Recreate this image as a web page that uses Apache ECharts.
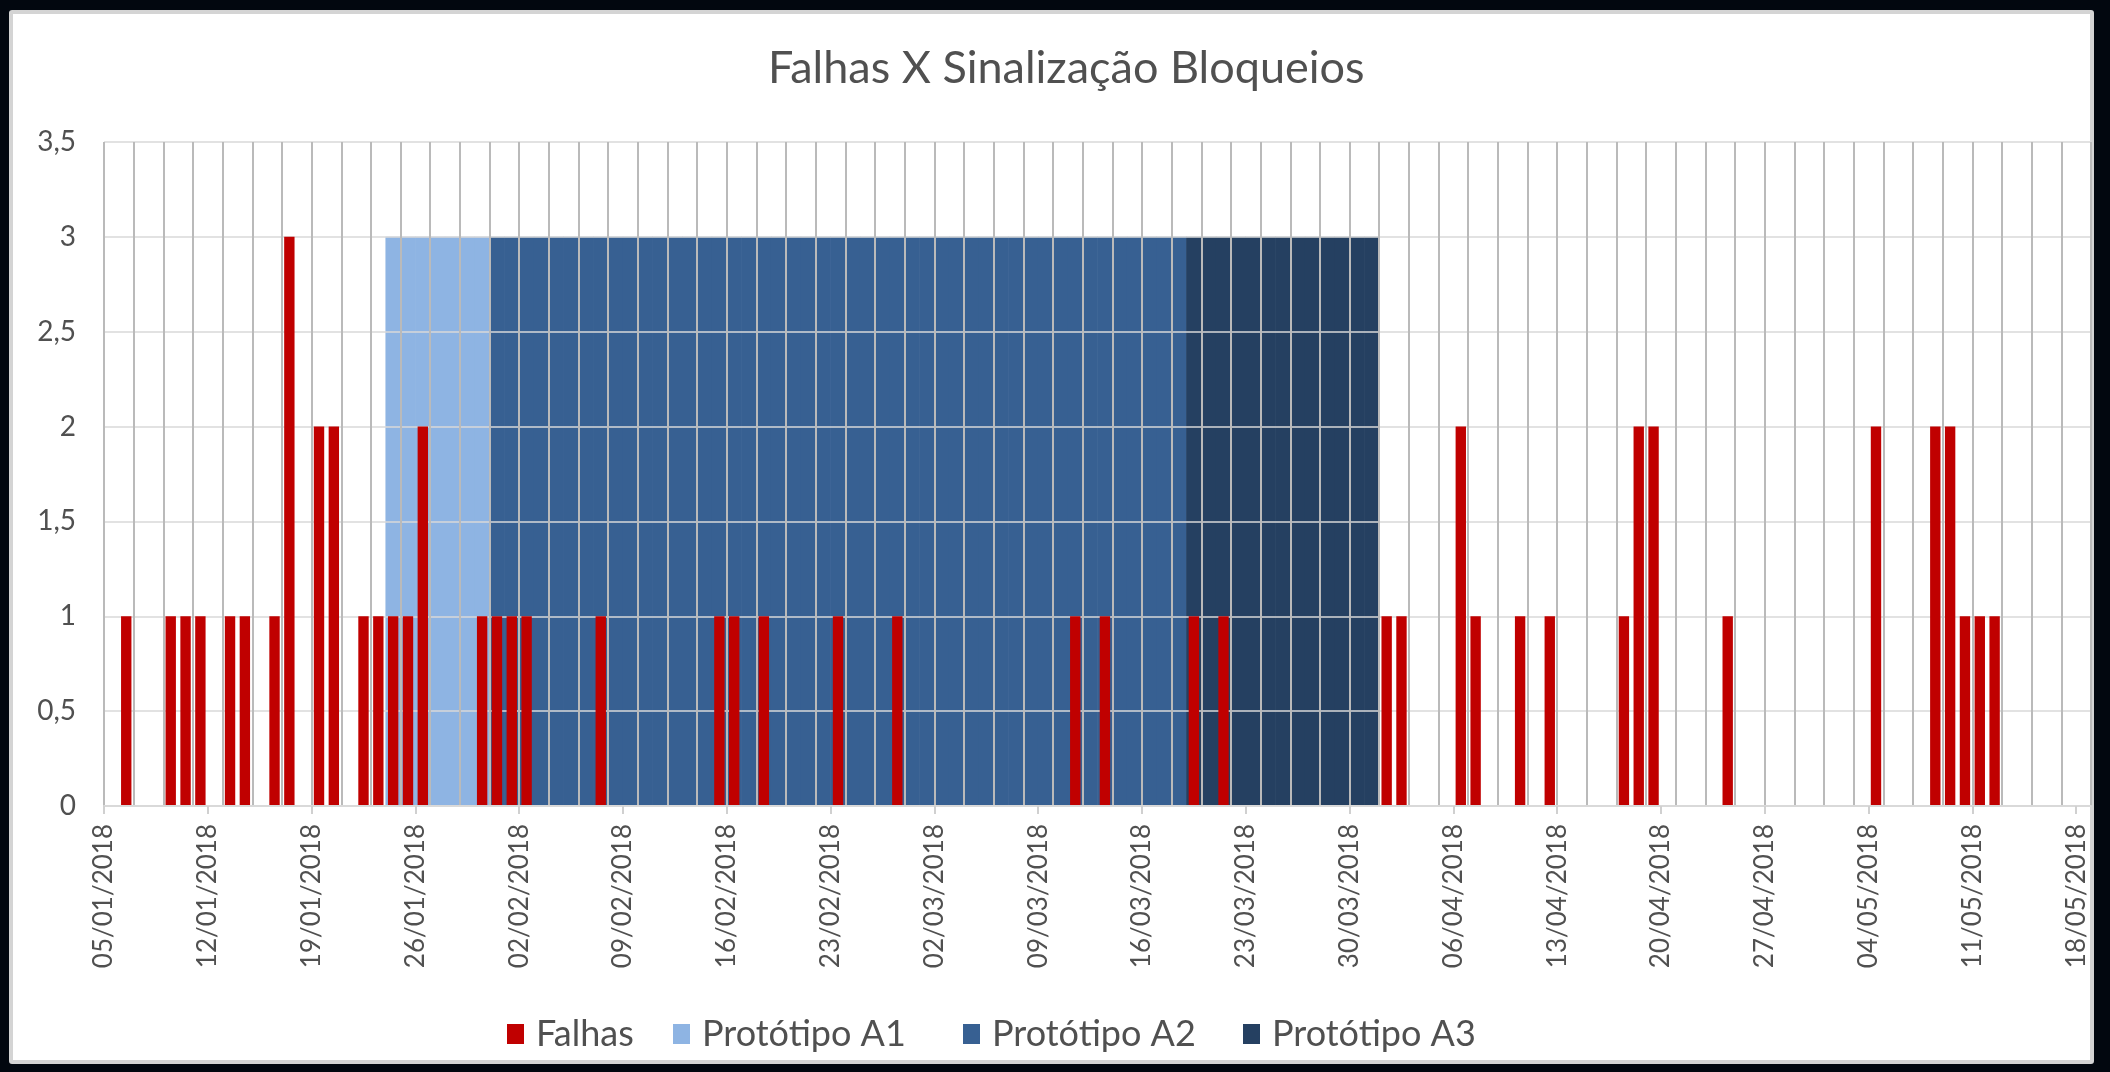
<!DOCTYPE html>
<html>
<head>
<meta charset="utf-8">
<script src="https://cdn.jsdelivr.net/npm/echarts@6/dist/echarts.min.js"></script>
<style>
  html, body { margin: 0; padding: 0; background: #02070f; overflow: hidden; }
  #moldura { position: absolute; left: 9px; top: 10px; width: 2085px; height: 1054px;
             background: #fff; border: 4px solid #d4d4d4; border-radius: 3px; box-sizing: border-box; }
  #grafico { position: absolute; left: 0; top: 0; width: 2110px; height: 1072px; }
</style>
</head>
<body>
<div id="moldura"></div>
<div id="grafico"></div>
<script>
// dias do eixo: de 05/01/2018 a 18/05/2018
const inicio = '05/01/2018';
const totalDias = 134;

// rotulos do eixo x (semanais)
const rotulosX = ['05/01/2018', '12/01/2018', '19/01/2018', '26/01/2018', '02/02/2018',
  '09/02/2018', '16/02/2018', '23/02/2018', '02/03/2018', '09/03/2018', '16/03/2018',
  '23/03/2018', '30/03/2018', '06/04/2018', '13/04/2018', '20/04/2018', '27/04/2018',
  '04/05/2018', '11/05/2018', '18/05/2018'];

// falhas por dia
const falhasDatas = ['06/01/2018', '09/01/2018', '10/01/2018', '11/01/2018', '13/01/2018',
  '14/01/2018', '16/01/2018', '17/01/2018', '19/01/2018', '20/01/2018', '22/01/2018',
  '23/01/2018', '24/01/2018', '25/01/2018', '26/01/2018', '30/01/2018', '31/01/2018',
  '01/02/2018', '02/02/2018', '07/02/2018', '15/02/2018', '16/02/2018', '18/02/2018',
  '23/02/2018', '27/02/2018', '11/03/2018', '13/03/2018', '19/03/2018', '21/03/2018',
  '01/04/2018', '02/04/2018', '06/04/2018', '07/04/2018', '10/04/2018', '12/04/2018',
  '17/04/2018', '18/04/2018', '19/04/2018', '24/04/2018', '04/05/2018', '08/05/2018',
  '09/05/2018', '10/05/2018', '11/05/2018', '12/05/2018'];
const falhasQtd = [1, 1, 1, 1, 1,
  1, 1, 3, 2, 2, 1,
  1, 1, 1, 2, 1, 1,
  1, 1, 1, 1, 1, 1,
  1, 1, 1, 1, 1, 1,
  1, 1, 2, 1, 1, 1,
  1, 2, 2, 1, 2, 2,
  2, 1, 1, 1];

// periodos dos prototipos
const prototipos = ['Protótipo A1', 'Protótipo A2', 'Protótipo A3'];
const protInicio = ['24/01/2018', '31/01/2018', '19/03/2018'];
const protFim = ['30/01/2018', '18/03/2018', '31/03/2018'];
const protNivel = [3, 3, 3];

const cores = ['#C00000', '#8EB4E3', '#376092', '#254061'];
const fonte = 'Lato';
const cinzaTexto = '#505050';

function paraUTC(s) {
  const p = s.split('/').map(Number);
  return Date.UTC(p[2], p[1] - 1, p[0]);
}
function indiceDia(s) {
  return Math.round((paraUTC(s) - paraUTC(inicio)) / 86400000);
}
function rotuloDia(i) {
  const d = new Date(paraUTC(inicio) + i * 86400000);
  const dd = String(d.getUTCDate()).padStart(2, '0');
  const mm = String(d.getUTCMonth() + 1).padStart(2, '0');
  return dd + '/' + mm + '/' + d.getUTCFullYear();
}

const dias = [];
for (let i = 0; i < totalDias; i++) dias.push(rotuloDia(i));

const falhas = dias.map(() => '-');
falhasDatas.forEach((d, k) => { falhas[indiceDia(d)] = falhasQtd[k]; });

const seriesProt = prototipos.map((nome, k) => {
  const a = indiceDia(protInicio[k]), b = indiceDia(protFim[k]);
  const dados = dias.map((d, i) => (i >= a && i <= b ? protNivel[k] : '-'));
  return {
    name: nome, type: 'bar', xAxisIndex: 1, stack: 'prot', barWidth: '104%', z: 2,
    itemStyle: { color: cores[k + 1] },
    data: dados
  };
});

const posRotulos = rotulosX.map(indiceDia);

// legenda: cada item no seu lugar, como no original
const legendaX = [502, 668, 958, 1238];
const nomesLegenda = ['Falhas'].concat(prototipos);
const legendas = nomesLegenda.map((nome, k) => ({
  data: [nome], left: legendaX[k], bottom: 15,
  icon: 'rect', itemWidth: 17, itemHeight: 20,
  textStyle: { fontFamily: fonte, fontSize: 36, color: cinzaTexto, padding: [0, 0, 0, 7] }
}));

const chart = echarts.init(document.getElementById('grafico'));
chart.setOption({
  animation: false,
  backgroundColor: 'transparent',
  title: {
    text: 'Falhas X Sinalização Bloqueios',
    left: 768, top: 46, padding: 0,
    textStyle: { fontFamily: fonte, fontSize: 45, fontWeight: 'normal', color: cinzaTexto }
  },
  legend: legendas,
  grid: { left: 104, right: 19, top: 142, bottom: 266 },
  xAxis: [
    {
      type: 'value', min: 0, max: totalDias, position: 'bottom', z: 5,
      axisLine: { show: true, onZero: false, lineStyle: { color: '#d9d9d9', width: 2 } },
      axisTick: { show: true, length: 8, customValues: posRotulos, lineStyle: { color: '#d0d0d0', width: 2 } },
      axisLabel: {
        customValues: posRotulos, rotate: 90, margin: 18,
        fontFamily: fonte, fontSize: 26, color: cinzaTexto,
        verticalAlign: 'middle', padding: [18, 0, 0, 0],
        formatter: (v) => rotuloDia(v)
      },
      splitLine: { show: false }
    },
    { type: 'category', data: dias, show: false, position: 'bottom' },
    { type: 'category', data: dias, show: false, position: 'bottom' },
    {
      type: 'value', min: 0, max: totalDias, interval: 2, position: 'bottom', z: 3,
      axisLine: { show: false }, axisTick: { show: false }, axisLabel: { show: false },
      splitLine: { show: true, lineStyle: { color: '#bababa', width: 2 } }
    }
  ],
  yAxis: {
    type: 'value', min: 0, max: 3.5, interval: 0.5, z: 3,
    axisLine: { show: false }, axisTick: { show: false },
    axisLabel: {
      margin: 28, fontFamily: fonte, fontSize: 28, color: cinzaTexto,
      formatter: (v) => String(v).replace('.', ',')
    },
    splitLine: { lineStyle: { color: '#d9d9d9', width: 1.5 } }
  },
  series: [
    {
      name: 'Falhas', type: 'bar', xAxisIndex: 2, barWidth: '70%', z: 4,
      itemStyle: { color: cores[0] },
      data: falhas
    }
  ].concat(seriesProt)
});
</script>
</body>
</html>
